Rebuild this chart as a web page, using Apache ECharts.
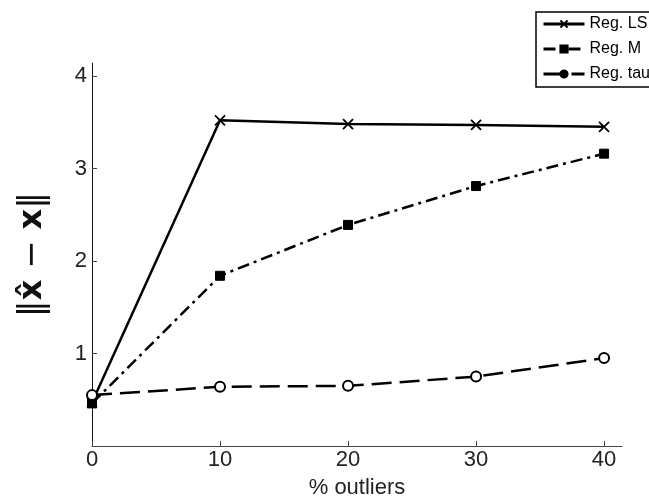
<!DOCTYPE html>
<html>
<head>
<meta charset="utf-8">
<script src="https://cdn.jsdelivr.net/npm/echarts@6/dist/echarts.min.js"></script>
<style>
  html, body { margin: 0; padding: 0; background: #fff; }
  #chart-container { width: 649px; height: 499px; }
</style>
</head>
<body>
<div id="chart-container"></div>
<script>
// % outliers on the x axis
var outliers = [0, 10, 20, 30, 40];
var regLS = [0.47, 3.52, 3.48, 3.47, 3.45];
var regM = [0.46, 1.84, 2.39, 2.81, 3.16];
var regTau = [0.55, 0.64, 0.65, 0.75, 0.95];
var xTicks = [0, 10, 20, 30, 40];
var yTicks = [1, 2, 3, 4];

function pairs(vals) {
    return outliers.map(function (x, i) { return [x, vals[i]]; });
}

var myChart = echarts.init(document.getElementById('chart-container'));
var font = 'Liberation Sans, Arial, sans-serif';
var crossPath = 'path://M0,0L10,10M10,0L0,10';

var option = {
    animation: false,
    backgroundColor: '#fff',
    textStyle: { fontFamily: font },
    grid: { left: 92, right: 27, top: 63, bottom: 53, outerBoundsMode: 'none', containLabel: false },
    legend: {
        left: 536,
        top: 12,
        orient: 'vertical',
        itemWidth: 41,
        itemHeight: 9,
        itemGap: 9,
        padding: [4, 6, 5, 6],
        borderColor: '#000',
        borderWidth: 1.5,
        borderRadius: 0,
        lineStyle: { width: 3 },
        textStyle: { fontSize: 16, color: '#000', fontFamily: font },
        data: [
            { name: 'Reg. LS' },
            { name: 'Reg. M' },
            { name: 'Reg. tau', itemStyle: { color: '#000' } }
        ]
    },
    xAxis: {
        type: 'value',
        min: 0,
        max: 41.4,
        name: '% outliers',
        nameLocation: 'middle',
        nameGap: 31,
        nameTextStyle: { fontSize: 22, color: '#222', fontFamily: font },
        splitLine: { show: false },
        axisLine: { lineStyle: { color: '#444', width: 1 } },
        axisTick: { inside: true, length: 5, customValues: xTicks, lineStyle: { color: '#444' } },
        axisLabel: { customValues: xTicks, fontSize: 22, color: '#222', margin: 3, fontFamily: font }
    },
    yAxis: {
        type: 'value',
        min: 0,
        max: 4.14,
        name: '{n|‖}{b|x̂}{n| − }{b|x}{n|‖}',
        nameLocation: 'middle',
        nameGap: 42,
        nameTextStyle: {
            color: '#111',
            rich: {
                n: { fontSize: 34, fontFamily: 'DejaVu Sans', fontWeight: 'normal', color: '#111' },
                b: { fontSize: 32, fontWeight: 'bold', fontFamily: 'DejaVu Sans', color: '#111' }
            }
        },
        splitLine: { show: false },
        axisLine: { lineStyle: { color: '#111', width: 1 } },
        axisTick: { inside: true, length: 5, customValues: yTicks, lineStyle: { color: '#444' } },
        axisLabel: { customValues: yTicks, fontSize: 22, color: '#222', margin: 5, fontFamily: font }
    },
    series: [
        {
            name: 'Reg. LS',
            type: 'line',
            data: pairs(regLS),
            symbol: crossPath,
            symbolSize: 10,
            itemStyle: { color: '#000', borderColor: '#000', borderWidth: 1.8 },
            lineStyle: { color: '#000', width: 2.5, type: 'solid' },
            z: 3
        },
        {
            name: 'Reg. M',
            type: 'line',
            data: pairs(regM),
            symbol: 'rect',
            symbolSize: 9,
            itemStyle: { color: '#000', borderColor: '#000', borderWidth: 1 },
            lineStyle: { color: '#000', width: 2.5, type: [12, 5, 3, 5] },
            z: 2
        },
        {
            name: 'Reg. tau',
            type: 'line',
            data: pairs(regTau),
            symbol: 'circle',
            symbolSize: 10,
            itemStyle: { color: '#fff', borderColor: '#000', borderWidth: 2 },
            lineStyle: { color: '#000', width: 2.5, type: [20, 8] },
            z: 4
        }
    ]
};

myChart.setOption(option);
</script>
</body>
</html>
